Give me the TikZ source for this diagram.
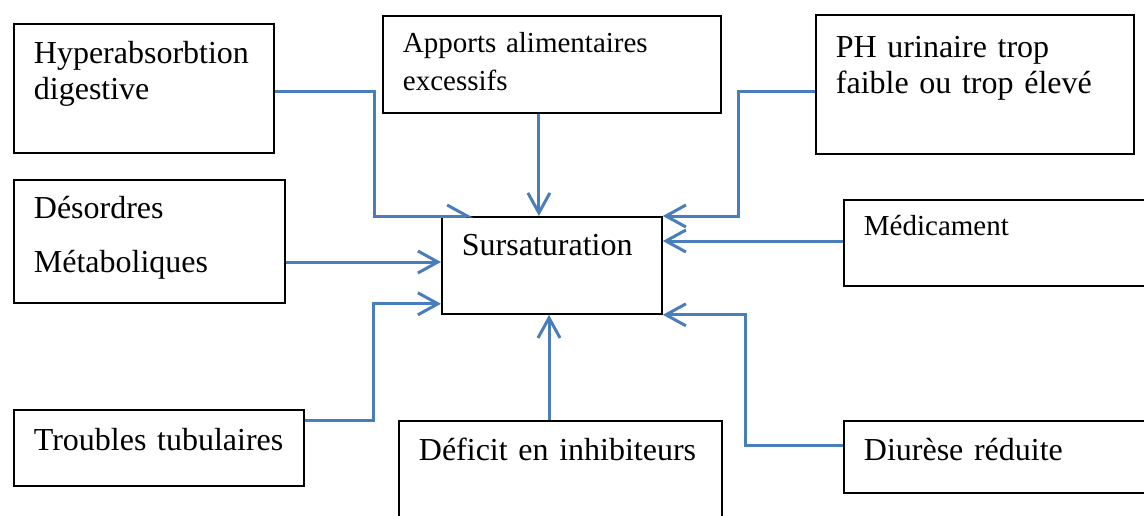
\documentclass[tikz,border=0pt]{standalone}
\usepackage{fontspec}
\setmainfont{Liberation Serif}
\usetikzlibrary{arrows.meta}
\usetikzlibrary{calc}
\definecolor{linkblue}{HTML}{4A7EBB}

\begin{document}
\begin{tikzpicture}[x=0.5pt, y=-0.5pt,
  cause/.style={draw, line width=0.9pt, anchor=north west, align=left, inner xsep=10pt, inner ysep=0pt, text height=20pt, font=\fontsize{16}{18}\selectfont},
  small/.style={font=\fontsize{14.5}{19}\selectfont},
  link/.style={draw=linkblue, line width=1.5pt, -{Straight Barb[length=10pt,width=11pt]}}]
\path[use as bounding box, clip] (0,0) rectangle (1144,515);
% boxes
\node[cause, text width=110pt, text depth=44.5pt] (hyper) at (13,23) {Hyperabsorbtion\\digestive};
\node[cause, small, text width=149pt, text height=18.5pt, text depth=30pt] (apports) at (382,15) {Apports alimentaires\\excessifs};
\node[cause, text width=139pt, text height=21.5pt, text depth=48pt] (ph) at (815,14) {PH urinaire trop\\faible ou trop élevé};
\node[cause, font=\fontsize{16}{27}\selectfont, text width=115.5pt, text height=19.5pt, text depth=42pt] (desordres) at (13,179) {Désordres\\Métaboliques};
\node[cause, text width=90pt, text height=19.5pt, text depth=29pt] (sursat) at (441,216) {Sursaturation};
\node[cause, small, text width=133.5pt, text height=18pt, text depth=25pt] (medic) at (843,199) {Médicament};
\node[cause, text width=125pt, text height=20.5pt, text depth=17.5pt] (troubles) at (13,409) {Troubles tubulaires};
\node[cause, text width=141.5pt, text depth=35pt] (deficit) at (398,420) {Déficit en inhibiteurs};
\node[cause, text width=133.5pt, text depth=16pt] (diurese) at (843,420) {Diurèse réduite};
% connectors
\draw[link, -{Straight Barb[left,length=10pt,width=11pt]}] ($(hyper.north east)+(0,68)$) -- ++(100,0) |- ($(sursat.north west)+(32,0)$);
\draw[link] ($(apports.south)+(-13,0)$) -- ($(sursat.north)+(-13,0)$);
\draw[link] ($(ph.north west)+(0,77)$) -- ++(-77,0) |- (sursat.north east);
\draw[link] ($(desordres.north east)+(0,83)$) -- ($(sursat.north west)+(0,46)$);
\draw[link] ($(medic.north west)+(0,42)$) -- ($(sursat.north east)+(0,25)$);
\draw[link] ($(troubles.north east)+(0,11)$) -- ++(69,0) |- ($(sursat.south west)+(0,-11)$);
\draw[link] ($(deficit.north west)+(151,0)$) -- ($(sursat.south west)+(108,0)$);
\draw[link] ($(diurese.north west)+(0,25)$) -- ++(-98,0) |- (sursat.south east);
\end{tikzpicture}
\end{document}
